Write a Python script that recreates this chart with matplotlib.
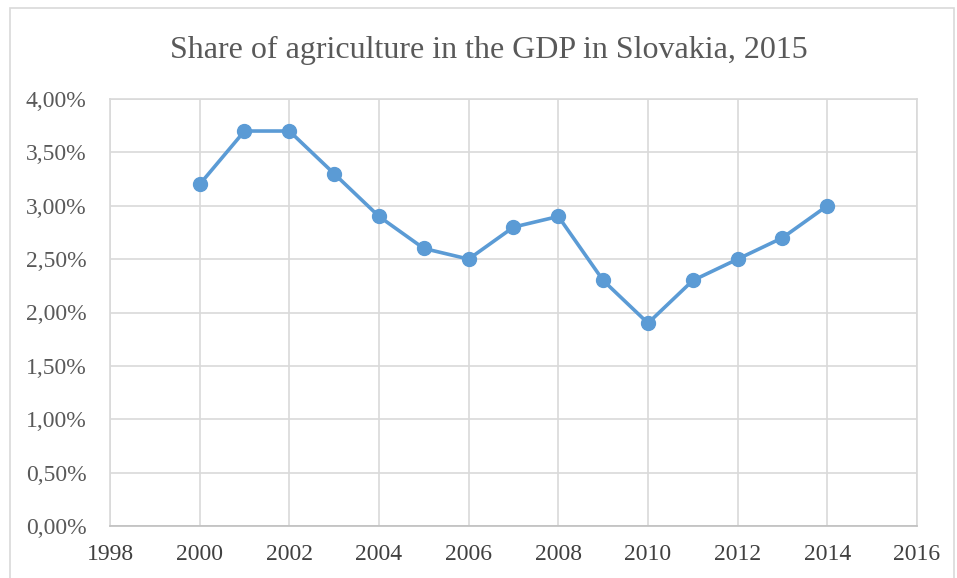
import matplotlib
matplotlib.use("Agg")
import matplotlib.pyplot as plt
from matplotlib.ticker import FuncFormatter, MultipleLocator
from matplotlib.patches import Rectangle

years = [2000, 2001, 2002, 2003, 2004, 2005, 2006, 2007, 2008, 2009, 2010, 2011, 2012, 2013, 2014]
share = [3.2, 3.7, 3.7, 3.3, 2.9, 2.6, 2.5, 2.8, 2.9, 2.3, 1.9, 2.3, 2.5, 2.7, 3.0]
title = "Share of agriculture in the GDP in Slovakia, 2015"

plt.rcParams['font.family'] = ['Liberation Serif', 'DejaVu Serif']
fig = plt.figure(figsize=(9.57, 5.78), dpi=100)
fig.patches.append(Rectangle((10/957, -0.01), 944/957, 1 - 8/578 + 0.01, transform=fig.transFigure,
                             fill=False, edgecolor='#D9D9D9', linewidth=1.2))
ax = fig.add_axes([110/957, 1 - 526/578, (917 - 110)/957, (526 - 99)/578])

ax.plot(years, share, color='#5B9BD5', linewidth=2.6, marker='o', markersize=10,
        markerfacecolor='#5B9BD5', markeredgecolor='#5B9BD5', zorder=3)

ax.set_xlim(1998, 2016)
ax.set_ylim(0, 4.0)
ax.xaxis.set_major_locator(MultipleLocator(2))
ax.yaxis.set_major_locator(MultipleLocator(0.5))
ax.yaxis.set_major_formatter(FuncFormatter(lambda v, p: f"{v:.2f}%".replace('.', ',')))
ax.grid(True, color='#D9D9D9', linewidth=1.2)
ax.set_axisbelow(True)
for s in ax.spines.values():
    s.set_color('#D9D9D9')
    s.set_linewidth(1.2)
ax.spines['bottom'].set_color('#BFBFBF')
ax.tick_params(length=0, labelsize=17)
ax.tick_params(axis='y', pad=17, colors='#595959')
ax.tick_params(axis='x', pad=13, colors='#404040')

fig.text(489/957, 1 - 50/578, title, ha='center', va='center', fontsize=23, color='#595959')

fig.savefig('out.png', dpi=100)
